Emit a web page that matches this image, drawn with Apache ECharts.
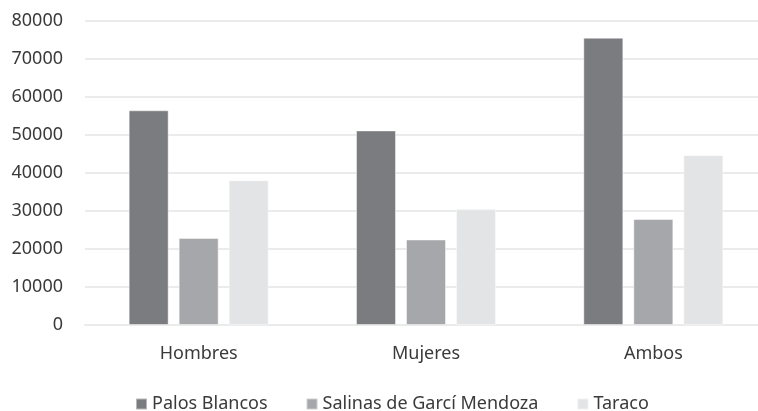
<!DOCTYPE html>
<html>
<head>
<meta charset="utf-8">
<script src="https://cdn.jsdelivr.net/npm/echarts@6/dist/echarts.min.js"></script>
<style>
  html, body { margin: 0; padding: 0; background: #fff; }
  #chart { width: 758px; height: 411px; }
</style>
</head>
<body>
<div id="chart"></div>
<script>
var categories = ['Hombres', 'Mujeres', 'Ambos'];
var seriesNames = ['Palos Blancos', 'Salinas de Garcí Mendoza', 'Taraco'];
var palosBlancos = [56500, 51200, 75600];
var salinas = [22900, 22500, 27900];
var taraco = [38100, 30500, 44700];
var yTicks = [0, 10000, 20000, 30000, 40000, 50000, 60000, 70000, 80000];

var colors = ['#7b7c80', '#a6a7aa', '#e3e4e6'];
var textColor = '#3a3a3a';
var fontFamily = '"Noto Sans", "Open Sans", sans-serif';

function barSeries(name, data, color) {
    return {
        name: name,
        type: 'bar',
        barWidth: 40,
        barGap: '25%',
        itemStyle: {
            color: color,
            borderColor: 'rgba(255,255,255,0.45)',
            borderWidth: 1
        },
        data: data
    };
}

var option = {
    animation: false,
    color: colors,
    grid: {
        left: 85,
        top: 21,
        bottom: 86,
        width: 682,
        containLabel: false,
        outerBoundsMode: 'none'
    },
    legend: {
        left: 130,
        top: 390,
        icon: 'rect',
        itemWidth: 11,
        itemHeight: 11,
        itemGap: 38,
        textStyle: {
            fontSize: 18,
            color: textColor,
            fontFamily: fontFamily
        },
        data: seriesNames
    },
    xAxis: {
        type: 'category',
        data: categories,
        axisTick: { show: false },
        axisLine: {
            lineStyle: { color: '#ebebeb', width: 2 }
        },
        axisLabel: {
            fontSize: 18,
            color: textColor,
            fontFamily: fontFamily,
            margin: 20
        }
    },
    yAxis: {
        type: 'value',
        min: yTicks[0],
        max: yTicks[yTicks.length - 1],
        interval: yTicks[1] - yTicks[0],
        axisLine: { show: false },
        axisTick: { show: false },
        axisLabel: {
            fontSize: 18,
            color: textColor,
            fontFamily: fontFamily,
            margin: 22,
            formatter: function (v) { return String(v); }
        },
        splitLine: {
            lineStyle: { color: '#ebebeb', width: 2 }
        }
    },
    series: [
        barSeries(seriesNames[0], palosBlancos, colors[0]),
        barSeries(seriesNames[1], salinas, colors[1]),
        barSeries(seriesNames[2], taraco, colors[2])
    ]
};

var chart = echarts.init(document.getElementById('chart'));
chart.setOption(option);
</script>
</body>
</html>
